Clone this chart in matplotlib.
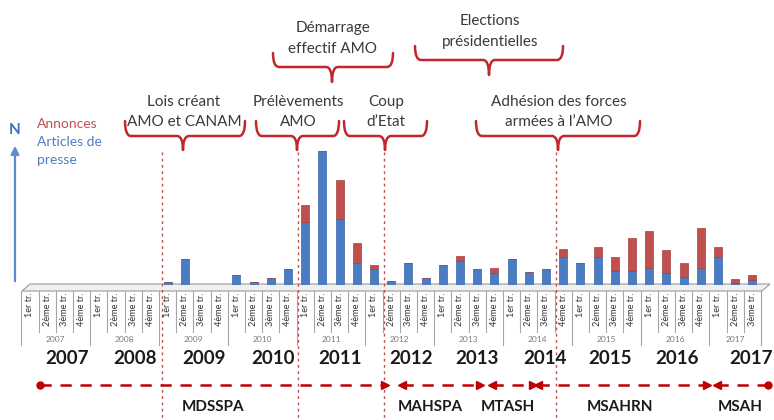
import matplotlib
matplotlib.use("Agg")
import matplotlib.pyplot as plt
from matplotlib.path import Path
from matplotlib.patches import PathPatch, Polygon
import matplotlib.transforms as mtrans

plt.rcParams['font.family'] = ['Lato', 'DejaVu Sans']

# ---------------- data ----------------
years = [2007, 2008, 2009, 2010, 2011, 2012, 2013, 2014, 2015, 2016, 2017]
quarters_per_year = [4, 4, 4, 4, 4, 4, 4, 4, 4, 4, 3]
quarter_names = ["1er tr.", "2ème tr.", "3ème tr.", "4ème tr."]

articles = [0, 0, 0, 0, 0, 0, 0, 0,
            3, 26, 0, 0,
            10, 3, 7, 16,
            63, 134, 66, 22,
            16, 4, 22, 7,
            20, 24, 16, 12,
            26, 13, 16, 28,
            22, 28, 14, 14,
            17, 12, 8, 17,
            28, 2, 5]
annonces = [0, 0, 0, 0, 0, 0, 0, 0,
            0, 0, 0, 0,
            0, 0, 0, 0,
            17, 0, 39, 20,
            4, 0, 0, 0,
            0, 5, 0, 5,
            0, 0, 0, 8,
            0, 10, 14, 33,
            37, 23, 14, 40,
            10, 4, 5]

events_low = [("Lois créant\nAMO et CANAM", 125, 245, 183),
              ("Prélèvements\nAMO", 256, 339, 297),
              ("Coup\nd’Etat", 344, 427, 385),
              ("Adhésion des forces\narmées à l’AMO", 476, 640, 558)]
events_high = [("Démarrage\neffectif AMO", 273, 393, 332, 67),
               ("Elections\nprésidentielles", 415, 563, 489, 60)]
period_lines = [7.7, 15.6, 20.6, 30.6]

ministries = ["MDSSPA", "MAHSPA", "MTASH", "MSAHRN", "MSAH"]
ministry_spans = [(40, 385), (402, 480), (492, 533), (538, 707), (717, 768)]
ministry_label_x = [213, 430, 508, 620, 740]
big_year_x = [67, 135, 204, 273, 340, 411, 477, 545, 610, 677, 751]

BLUE = "#4a7cc4"
RED = "#c0504d"
BRACE = "#c1272d"
TXT = "#3a3a3a"

# ---------------- figure ----------------
W, H = 774, 420
fig = plt.figure(figsize=(W / 100, H / 100), dpi=100)
fig.patch.set_facecolor("white")

ov = fig.add_axes([0, 0, 1, 1], zorder=0)
ov.set_xlim(0, W)
ov.set_ylim(H, 0)
ov.axis("off")

slot = 17.2
left_px = 30 - slot / 2
n = len(articles)
ax = fig.add_axes([left_px / W, 1 - 285 / H, n * slot / W, 155 / H], zorder=1)
ax.patch.set_alpha(0)
ax.set_xlim(-0.5, n - 0.5)
ax.set_ylim(0, 155)
for s in ax.spines.values():
    s.set_visible(False)
ax.set_yticks([])

labels = []
for q in quarters_per_year:
    labels += quarter_names[:q]
xs = list(range(n))
ax.set_xticks(xs)
ax.set_xticklabels(labels, rotation=90, fontsize=6.6, color="#333333", va="top")
ax.tick_params(axis="x", length=0, pad=5.5)

# 3D-like floor
floor = Polygon([(22, 291), (762, 291), (770, 284), (30, 284)], closed=True,
                facecolor="#f0f0f0", edgecolor="#9a9a9a", lw=0.8, zorder=1)
ov.add_patch(floor)

# bars
bw = 0.47
ax.bar(xs, articles, width=bw, color=BLUE, edgecolor="#3a66a8", lw=0.5, zorder=3)
ax.bar(xs, annonces, width=bw, bottom=articles, color=RED, edgecolor="#a33f3c",
       lw=0.5, zorder=3)

# category cell lines (x in data, y in pixels)
bt = mtrans.blended_transform_factory(ax.transData, ov.transData)
starts = [0]
for q in quarters_per_year:
    starts.append(starts[-1] + q)
for k in range(n + 1):
    xk = k - 0.5
    y1 = 345 if k in starts else 332
    ov.plot([xk, xk], [291, y1], color="#a6a6a6", lw=0.8, transform=bt,
            clip_on=False, zorder=2)

# small year labels (group centres)
for yr, s0, q in zip(years, starts[:-1], quarters_per_year):
    ov.text(s0 + (q - 1) / 2, 340, str(yr), transform=bt, fontsize=6,
            color="#7a7a7a", ha="center", va="center")

# big year labels
for yr, xp in zip(years, big_year_x):
    ov.text(xp, 358, str(yr), fontsize=13.5, fontweight="bold", color="#1a1a1a",
            ha="center", va="center")

# dashed vertical period lines
for xl in period_lines:
    ov.plot([xl, xl], [152, 420], transform=bt, color=RED, lw=1.0,
            ls=(0, (2, 2.5)), clip_on=False, zorder=2)


def brace(x0, x1, xt, y, hu, td, r=6):
    verts = [(x0, y - hu), (x0, y), (x0 + r, y),
             (xt - r, y), (xt, y), (xt, y + td),
             (xt, y), (xt + r, y),
             (x1 - r, y), (x1, y), (x1, y - hu)]
    codes = [Path.MOVETO, Path.CURVE3, Path.CURVE3,
             Path.LINETO, Path.CURVE3, Path.CURVE3,
             Path.CURVE3, Path.CURVE3,
             Path.LINETO, Path.CURVE3, Path.CURVE3]
    ov.add_patch(PathPatch(Path(verts, codes), facecolor="none",
                           edgecolor=BRACE, lw=1.8, capstyle="round",
                           joinstyle="round", zorder=4))


for txt, x0, x1, xt in events_low:
    brace(x0, x1, xt, 136, 15, 14)
    l1, l2 = txt.split("\n")
    ov.text(xt + 1, 102, l1, fontsize=11, color=TXT, ha="center", va="center")
    ov.text(xt + 1, 122, l2, fontsize=11, color=TXT, ha="center", va="center")

for txt, x0, x1, xt, yb in events_high:
    brace(x0, x1, xt, yb, 14, 15)
    l1, l2 = txt.split("\n")
    ov.text(xt + 1, yb - 39, l1, fontsize=11, color=TXT, ha="center", va="center")
    ov.text(xt + 1, yb - 18, l2, fontsize=11, color=TXT, ha="center", va="center")

# left arrow + legend
ov.annotate("", xy=(15, 143), xytext=(15, 284),
            arrowprops=dict(arrowstyle="-|>", color="#5b8bd0", lw=1.6,
                            mutation_scale=12))
ov.text(15, 130, "N", fontsize=11, fontweight="bold", color="#3a6fc0",
        ha="center", va="center")
ov.text(37, 124, "Annonces", fontsize=10, color=RED, ha="left", va="center")
ov.text(37, 142, "Articles de", fontsize=10, color="#4f7fc0", ha="left", va="center")
ov.text(37, 160, "presse", fontsize=10, color="#4f7fc0", ha="left", va="center")

# ministries timeline
YM = 385
for i, ((a, b), name, lx) in enumerate(zip(ministry_spans, ministries, ministry_label_x)):
    ov.plot([a, b], [YM, YM], color="#c00000", lw=1.8, ls=(0, (4.5, 3.5)), zorder=3)
    if i == 0:
        ov.plot([a], [YM], marker="o", ms=5, color="#c00000", zorder=4)
    else:
        ov.plot([a], [YM], marker="<", ms=6, color="#c00000", zorder=4)
    if i == len(ministries) - 1:
        ov.plot([b], [YM], marker="o", ms=5, color="#c00000", zorder=4)
    else:
        ov.plot([b], [YM], marker=">", ms=6, color="#c00000", zorder=4)
    ov.text(lx, 407, name, fontsize=11, fontweight="bold", color="#1a1a1a",
            ha="center", va="center")

fig.savefig("out.png", dpi=100)
